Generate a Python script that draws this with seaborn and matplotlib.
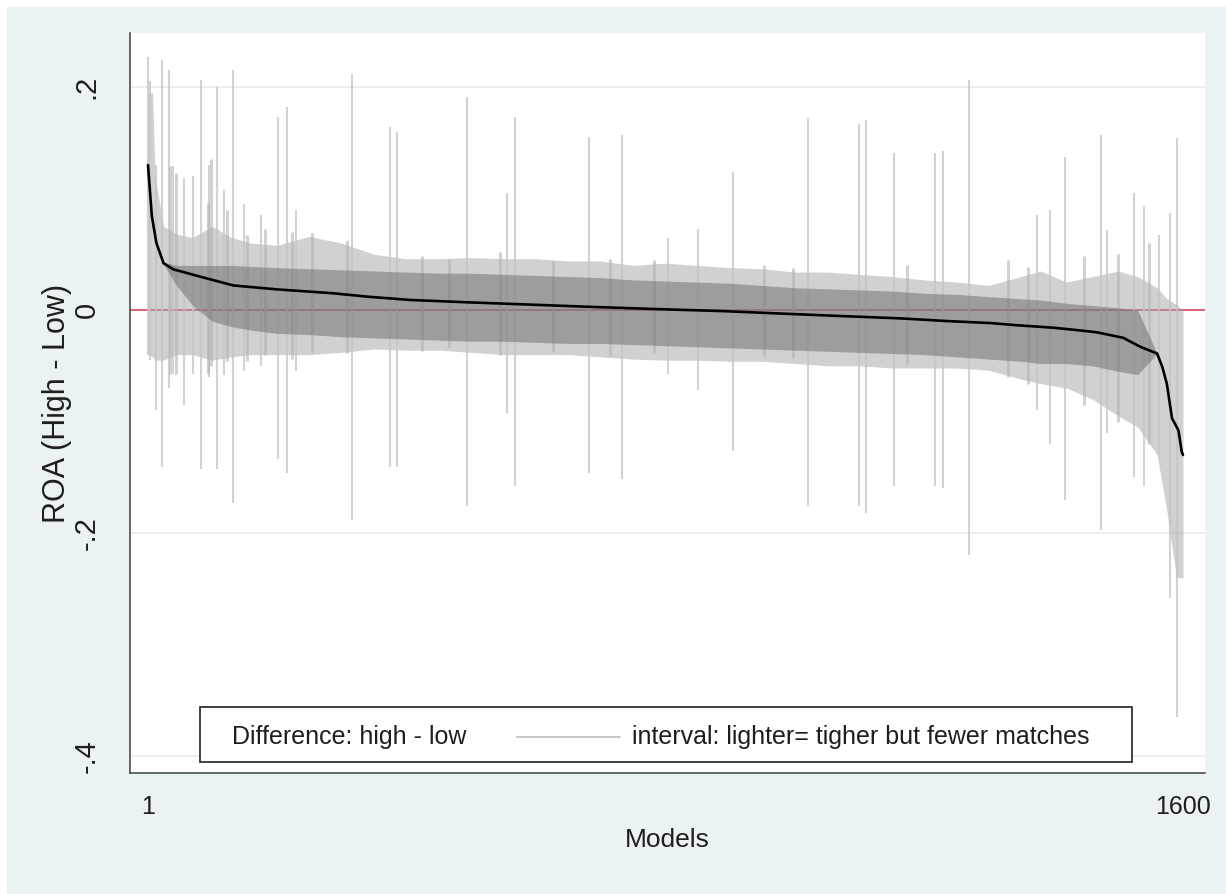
import matplotlib
matplotlib.use("Agg")
import matplotlib.pyplot as plt
from matplotlib.lines import Line2D
from matplotlib.patches import Rectangle
import seaborn as sns
import pandas as pd

# sorted difference (black line)
line_models = [1, 7, 14, 25, 40, 81, 133, 200, 287, 339, 406, 494, 584, 676, 777, 890,
               983, 1071, 1163, 1235, 1302, 1344, 1400, 1436, 1467, 1508, 1534, 1560,
               1568, 1575, 1583, 1593, 1598, 1600]
line_values = [0.130, 0.084, 0.060, 0.042, 0.0365, 0.030, 0.022, 0.0185, 0.015, 0.012,
               0.009, 0.0069, 0.005, 0.003, 0.001, -0.001, -0.0033, -0.0054, -0.0075,
               -0.0099, -0.0117, -0.0137, -0.0159, -0.018, -0.020, -0.025, -0.033, -0.039,
               -0.051, -0.066, -0.097, -0.108, -0.127, -0.130]

# envelope of the dense interval band (light outer part and darker core)
band_models = [1, 8, 12, 25, 45, 70, 100, 130, 160, 200, 250, 300, 350, 400, 450, 500,
               550, 600, 650, 700, 750, 800, 850, 900, 950, 1000, 1050, 1100, 1150, 1200,
               1250, 1300, 1350, 1380, 1420, 1460, 1500, 1530, 1560, 1575, 1590, 1600]
halo_upper = [0.195, 0.195, 0.120, 0.075, 0.068, 0.065, 0.075, 0.065, 0.060, 0.058,
              0.066, 0.060, 0.050, 0.046, 0.046, 0.047, 0.046, 0.046, 0.044, 0.044,
              0.040, 0.042, 0.040, 0.038, 0.037, 0.034, 0.034, 0.032, 0.030, 0.027,
              0.025, 0.022, 0.030, 0.035, 0.025, 0.030, 0.035, 0.030, 0.020, 0.010,
              0.005, 0.000]
halo_lower = [-0.040, -0.042, -0.045, -0.045, -0.040, -0.040, -0.045, -0.042, -0.040, -0.040,
              -0.040, -0.038, -0.035, -0.036, -0.036, -0.038, -0.040, -0.040, -0.040, -0.042,
              -0.044, -0.045, -0.045, -0.046, -0.046, -0.048, -0.050, -0.050, -0.052, -0.052,
              -0.052, -0.054, -0.062, -0.066, -0.070, -0.080, -0.095, -0.105, -0.130, -0.180,
              -0.240, -0.240]
core_upper = [0.130, 0.082, 0.066, 0.043, 0.040, 0.040, 0.040, 0.040, 0.039, 0.038,
              0.037, 0.036, 0.035, 0.034, 0.033, 0.033, 0.032, 0.031, 0.030, 0.029,
              0.027, 0.026, 0.025, 0.024, 0.022, 0.020, 0.019, 0.018, 0.017, 0.015,
              0.014, 0.012, 0.010, 0.009, 0.006, 0.004, 0.002, 0.000, -0.039, -0.066,
              -0.110, -0.130]
core_lower = [0.130, 0.082, 0.066, 0.041, 0.022, 0.004, -0.010, -0.015, -0.018, -0.021,
              -0.022, -0.024, -0.025, -0.026, -0.027, -0.028, -0.028, -0.029, -0.030, -0.030,
              -0.031, -0.032, -0.033, -0.034, -0.035, -0.036, -0.037, -0.038, -0.039, -0.040,
              -0.042, -0.044, -0.046, -0.048, -0.048, -0.050, -0.055, -0.058, -0.039, -0.066,
              -0.110, -0.130]

# long single intervals sticking out of the band
spike_models = [1, 4, 14, 22, 33, 40, 56, 70, 83, 95, 108, 118, 133, 150, 175, 202, 215,
                230, 316, 375, 385, 494, 555, 568, 683, 733, 805, 851, 905, 1020, 1099,
                1111, 1153, 1217, 1229, 1269, 1375, 1395, 1418, 1473, 1483, 1525, 1539,
                1563, 1580, 1590]
spike_upper = [0.227, 0.205, 0.130, 0.224, 0.215, 0.129, 0.118, 0.120, 0.206, 0.130,
               0.200, 0.108, 0.215, 0.095, 0.085, 0.173, 0.182, 0.090, 0.212, 0.164,
               0.160, 0.191, 0.105, 0.173, 0.155, 0.157, 0.065, 0.073, 0.124, 0.172,
               0.167, 0.170, 0.141, 0.141, 0.143, 0.206, 0.085, 0.090, 0.137, 0.157,
               0.072, 0.105, 0.093, 0.067, 0.087, 0.154]
spike_lower = [-0.040, -0.045, -0.090, -0.141, -0.070, -0.057, -0.085, -0.057, -0.143, -0.060,
               -0.143, -0.058, -0.173, -0.055, -0.050, -0.134, -0.146, -0.055, -0.188, -0.141,
               -0.141, -0.176, -0.092, -0.158, -0.146, -0.152, -0.057, -0.072, -0.126, -0.176,
               -0.176, -0.182, -0.158, -0.158, -0.160, -0.220, -0.090, -0.120, -0.170, -0.197,
               -0.110, -0.150, -0.158, -0.130, -0.258, -0.365]

# shorter streaks just past the band edge
streak_models = [35, 45, 94, 99, 123, 154, 182, 223, 254, 308, 424, 466, 545, 627, 715,
                 782, 952, 998, 1174, 1330, 1360, 1447, 1500, 1548]
streak_upper = [0.129, 0.123, 0.096, 0.135, 0.090, 0.067, 0.073, 0.070, 0.069, 0.063,
                0.048, 0.046, 0.052, 0.044, 0.046, 0.045, 0.040, 0.038, 0.040, 0.045,
                0.039, 0.048, 0.050, 0.060]
streak_lower = [-0.057, -0.057, -0.057, -0.050, -0.046, -0.046, -0.040, -0.044, -0.039, -0.039,
                -0.037, -0.034, -0.040, -0.038, -0.041, -0.039, -0.041, -0.043, -0.048, -0.060,
                -0.066, -0.085, -0.100, -0.120]

y_ticks = [0.2, 0.0, -0.2, -0.4]
y_tick_labels = [".2", "0", "-.2", "-.4"]
x_ticks = [1, 1600]
x_tick_labels = ["1", "1600"]

sns.set_style("white")
plt.rcParams["font.family"] = ["Liberation Sans", "DejaVu Sans"]
fs = 18      # horizontal text
fs_v = 21    # rotated text
text_col = "#1e1e1e"
axis_col = "#404040"

W, H = 1226, 894
fig = plt.figure(figsize=(W / 100, H / 100), dpi=100)
fig.patch.set_facecolor("white")
fig.add_artist(Rectangle((7 / W, 0), 1, 1 - 7 / H, transform=fig.transFigure,
                         facecolor="#eaf2f3", edgecolor="none", zorder=-10))
ax = fig.add_axes([130 / W, 1 - 773 / H, 1075 / W, 740 / H])
ax.set_facecolor("white")

for v in [0.2, -0.2, -0.4]:
    ax.axhline(v, color="#e9eded", lw=1.3, zorder=0)
ax.axhline(0, color="#d8435f", lw=1.2, zorder=1)

ax.fill_between(band_models, halo_lower, halo_upper, color="#a4a4a4", alpha=0.5, lw=0, zorder=2)
ax.vlines(spike_models, spike_lower, spike_upper, color="#c4c4c4", alpha=0.75, lw=1.5, zorder=2.5)
ax.vlines(streak_models, streak_lower, streak_upper, color="#b4b4b4", alpha=0.6, lw=2.2, zorder=2.6)
ax.fill_between(band_models, core_lower, core_upper, color="#6a6a6a", alpha=0.5, lw=0, zorder=3)

df = pd.DataFrame({"model": line_models, "diff": line_values})
sns.lineplot(data=df, x="model", y="diff", color="black", lw=1.9, ax=ax, zorder=5)

ax.set_xlim(-26.8, 1634)
ax.set_ylim(-0.4152, 0.2484)
ax.set_yticks(y_ticks)
ax.set_yticklabels(y_tick_labels)
ax.set_xticks(x_ticks)
ax.set_xticklabels(x_tick_labels)
ax.tick_params(direction="out", length=11, width=1.1, color=axis_col,
               labelsize=fs, labelcolor=text_col, pad=5)
ax.tick_params(axis="y", labelsize=fs_v, pad=10)
for lab in ax.get_yticklabels():
    lab.set_rotation(90)
    lab.set_va("center")

for side in ["top", "right"]:
    ax.spines[side].set_visible(False)
for side in ["left", "bottom"]:
    ax.spines[side].set_color(axis_col)
    ax.spines[side].set_linewidth(1.1)

ax.set_xlabel("Models", fontsize=fs + 1, color=text_col, va="center")
ax.xaxis.set_label_coords(0.5, -0.0905)
ax.set_ylabel("ROA (High - Low)", fontsize=fs_v + 1, color=text_col, va="center")
ax.yaxis.set_label_coords(-0.068, 0.5)

# legend box drawn like Stata's: label, key, label
ax.add_patch(Rectangle((0.0651, 0.0149), 0.867, 0.0743, transform=ax.transAxes,
                       facecolor="white", edgecolor="#333333", lw=1.3, zorder=6))
ax.text(0.0949, 0.0486, "Difference: high - low", transform=ax.transAxes,
        ha="left", va="center", fontsize=fs, color=text_col, zorder=7)
ax.add_line(Line2D([0.36, 0.456], [0.0486, 0.0486], transform=ax.transAxes,
                   color="#c8c8c8", lw=1.4, zorder=7))
ax.text(0.467, 0.0486, "interval: lighter= tigher but fewer matches", transform=ax.transAxes,
        ha="left", va="center", fontsize=fs, color=text_col, zorder=7)

fig.savefig("out.png", dpi=100)
